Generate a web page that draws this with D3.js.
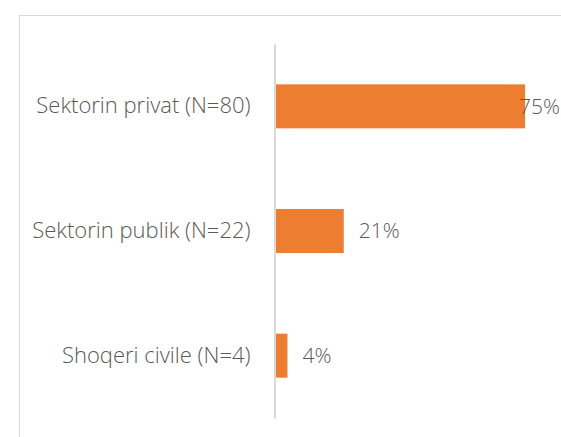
<!DOCTYPE html>
<html>
<head>
<meta charset="utf-8">
<script src="https://cdn.jsdelivr.net/npm/d3@7"></script>
<style>
  body { margin: 0; background: #fff; }
  svg { display: block; }
  text { font-family: "Open Sans", sans-serif; fill: #595959; }
</style>
</head>
<body>
<svg id="chart" width="561" height="437"></svg>
<script>
// categories and shares (share of 106 respondents)
let categories = ["Sektorin privat (N=80)", "Sektorin publik (N=22)", "Shoqeri civile (N=4)"];
let shares = [75.47, 20.75, 3.77];
let shareLabels = ["75%", "21%", "4%"];

let width = 561,
  height = 437;

let svg = d3.select("#chart");

// chart area frame
svg.append("rect")
  .attr("x", 19.5)
  .attr("y", 15.5)
  .attr("width", width)
  .attr("height", height)
  .attr("fill", "none")
  .attr("stroke", "#d9d9d9");

let x = d3.scaleLinear()
  .domain([0, 86.3])
  .range([275, 561]);

let y = d3.scaleBand()
  .domain(categories)
  .range([44, 418])
  .paddingInner(0.647)
  .paddingOuter(0.3235);

let data = categories.map(function(c, i) {
  return { cat: c, value: shares[i], label: shareLabels[i] };
});

// bars
svg.selectAll(".bar")
  .data(data)
  .enter()
  .append("rect")
  .attr("class", "bar")
  .attr("x", x(0))
  .attr("y", function(d) { return y(d.cat); })
  .attr("width", function(d) { return x(d.value) - x(0); })
  .attr("height", y.bandwidth())
  .attr("fill", "#ed7d31");

// vertical category axis
let yAxis = svg.append("g")
  .attr("transform", "translate(" + (x(0) - 0.5) + ",0)")
  .call(d3.axisLeft(y).tickSize(0).tickPadding(24));
yAxis.select(".domain").attr("stroke", "#d9d9d9").attr("stroke-width", 2);
yAxis.selectAll("text")
  .style("font-family", "'Open Sans', sans-serif")
  .style("font-size", "22px")
  .style("font-weight", 300)
  .attr("fill", "#595959");

// value labels (kept inside the chart area when they would overflow)
svg.selectAll(".val")
  .data(data)
  .enter()
  .append("text")
  .attr("class", "val")
  .attr("y", function(d) { return y(d.cat) + y.bandwidth() / 2; })
  .attr("dy", "0.35em")
  .style("font-size", "21px")
  .style("font-weight", 300)
  .text(function(d) { return d.label; })
  .attr("x", function(d) {
    let w = this.getComputedTextLength();
    return Math.min(x(d.value) + 15, width - w - 1);
  });
</script>
</body>
</html>
